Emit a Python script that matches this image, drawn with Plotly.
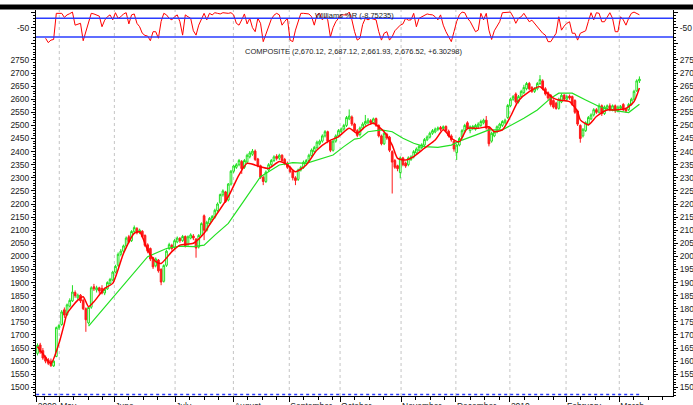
import plotly.graph_objects as go

# ---------------- data ----------------
opens = [
    1630, 1662, 1640, 1615, 1605, 1600, 1582, 1618, 1728, 1740,
    1796, 1778, 1810, 1830, 1862, 1842, 1852, 1832, 1800, 1746,
    1806, 1884, 1872, 1880, 1878, 1860, 1876, 1896, 1910, 1940,
    1966, 2008, 2020, 2040, 2075, 2060, 2094, 2106, 2092, 2096,
    2080, 2044, 2030, 1995, 1964, 1986, 1950, 1905, 1966, 2030,
    2042, 2034, 2055, 2068, 2060, 2076, 2045, 2070, 2078, 2066,
    2036, 2080, 2155, 2100, 2125, 2140, 2150, 2175, 2205, 2235,
    2246, 2215, 2276, 2325, 2340, 2350, 2362, 2340, 2360, 2380,
    2390, 2402, 2372, 2346, 2302, 2286, 2330, 2350, 2366, 2382,
    2375, 2386, 2370, 2356, 2340, 2325, 2300, 2294, 2330, 2340,
    2355, 2366, 2385, 2400, 2415, 2430, 2440, 2460, 2476, 2440,
    2405, 2440, 2460, 2476, 2486, 2500, 2525, 2532, 2505, 2480,
    2465, 2490, 2505, 2510, 2518, 2510, 2526, 2500, 2460, 2430,
    2466, 2455, 2400, 2366, 2346, 2320, 2376, 2356, 2350, 2370,
    2380, 2395, 2405, 2415, 2425, 2445, 2455, 2470, 2475, 2485,
    2492, 2488, 2496, 2478, 2460, 2440, 2396, 2425, 2455, 2480,
    2510, 2480, 2490, 2485, 2495, 2500, 2510, 2520, 2490, 2440,
    2460, 2475, 2490, 2500, 2510, 2530, 2575, 2600, 2620, 2590,
    2610, 2625, 2640, 2660, 2645, 2630, 2640, 2660, 2670, 2640,
    2625, 2615, 2595, 2585, 2565, 2590, 2615, 2600, 2612, 2610,
    2595, 2555, 2500, 2460, 2480, 2505, 2525, 2540, 2560, 2550,
    2575, 2545, 2565, 2575, 2560, 2575, 2555, 2565, 2580, 2562,
    2560, 2580, 2600, 2632, 2670.12,
]
highs = [
    1668, 1670, 1650, 1622, 1612, 1610, 1605, 1732, 1742, 1795,
    1805, 1820, 1840, 1890, 1870, 1858, 1856, 1838, 1805, 1810,
    1886, 1895, 1888, 1884, 1890, 1880, 1905, 1918, 1945, 1968,
    2015, 2028, 2045, 2076, 2082, 2100, 2118, 2112, 2106, 2100,
    2084, 2050, 2034, 1998, 1996, 1990, 1955, 1970, 2026, 2052,
    2048, 2066, 2076, 2074, 2082, 2080, 2080, 2088, 2085, 2070,
    2085, 2130, 2160, 2136, 2150, 2158, 2182, 2206, 2240, 2256,
    2250, 2280, 2330, 2350, 2356, 2372, 2368, 2372, 2392, 2402,
    2410, 2408, 2376, 2350, 2308, 2328, 2356, 2372, 2386, 2390,
    2392, 2390, 2376, 2362, 2346, 2330, 2306, 2335, 2346, 2366,
    2372, 2392, 2412, 2422, 2442, 2446, 2466, 2482, 2480, 2444,
    2446, 2466, 2486, 2492, 2506, 2536, 2561, 2538, 2510, 2486,
    2496, 2512, 2540, 2528, 2524, 2530, 2530, 2504, 2465, 2476,
    2472, 2460, 2405, 2372, 2350, 2382, 2380, 2362, 2382, 2386,
    2406, 2416, 2426, 2432, 2452, 2462, 2476, 2486, 2492, 2496,
    2498, 2500, 2500, 2484, 2466, 2446, 2430, 2456, 2486, 2506,
    2516, 2500, 2502, 2506, 2512, 2522, 2526, 2536, 2494, 2476,
    2480, 2500, 2510, 2520, 2526, 2582, 2606, 2616, 2626, 2616,
    2636, 2655, 2666, 2666, 2650, 2646, 2666, 2692, 2676, 2646,
    2630, 2620, 2600, 2590, 2606, 2622, 2620, 2616, 2618, 2614,
    2600, 2560, 2504, 2490, 2516, 2536, 2546, 2566, 2566, 2584,
    2580, 2576, 2580, 2584, 2580, 2580, 2576, 2578, 2585, 2568,
    2586, 2606, 2636, 2676, 2687.12,
]
lows = [
    1622, 1628, 1605, 1592, 1585, 1578, 1578, 1615, 1720, 1735,
    1765, 1772, 1805, 1826, 1842, 1835, 1822, 1795, 1712, 1740,
    1800, 1868, 1862, 1858, 1855, 1852, 1872, 1890, 1905, 1935,
    1960, 2000, 2012, 2034, 2050, 2055, 2088, 2084, 2085, 2070,
    2036, 2012, 1982, 1952, 1958, 1938, 1890, 1900, 1960, 2024,
    2022, 2028, 2050, 2052, 2055, 2034, 2040, 2065, 2062, 1995,
    2030, 2075, 2062, 2095, 2118, 2134, 2144, 2170, 2200, 2228,
    2204, 2210, 2270, 2318, 2334, 2344, 2315, 2334, 2355, 2374,
    2384, 2364, 2340, 2296, 2272, 2280, 2324, 2344, 2360, 2366,
    2368, 2360, 2348, 2334, 2318, 2290, 2272, 2288, 2324, 2334,
    2350, 2360, 2380, 2394, 2410, 2424, 2434, 2454, 2432, 2398,
    2400, 2434, 2454, 2470, 2480, 2494, 2520, 2498, 2474, 2455,
    2458, 2484, 2498, 2504, 2502, 2504, 2494, 2454, 2424, 2425,
    2445, 2398, 2240, 2334, 2325, 2298, 2344, 2338, 2344, 2364,
    2374, 2390, 2400, 2410, 2420, 2440, 2450, 2464, 2470, 2478,
    2478, 2482, 2474, 2454, 2438, 2400, 2368, 2420, 2450, 2474,
    2484, 2470, 2482, 2480, 2490, 2494, 2504, 2484, 2420, 2434,
    2455, 2470, 2484, 2494, 2504, 2525, 2570, 2594, 2584, 2584,
    2604, 2620, 2634, 2634, 2624, 2624, 2634, 2654, 2634, 2614,
    2598, 2572, 2564, 2560, 2560, 2585, 2594, 2594, 2598, 2574,
    2544, 2498, 2434, 2454, 2475, 2500, 2520, 2534, 2544, 2545,
    2536, 2540, 2558, 2554, 2554, 2548, 2550, 2560, 2554, 2548,
    2555, 2575, 2595, 2628, 2661.93,
]
closes = [
    1660, 1635, 1612, 1600, 1592, 1583, 1600, 1728, 1736, 1788,
    1776, 1815, 1832, 1864, 1850, 1852, 1830, 1800, 1758, 1805,
    1880, 1876, 1880, 1868, 1860, 1874, 1900, 1912, 1940, 1962,
    2008, 2020, 2040, 2070, 2056, 2095, 2110, 2090, 2100, 2076,
    2042, 2020, 1990, 1960, 1990, 1945, 1902, 1965, 2020, 2045,
    2030, 2060, 2070, 2060, 2076, 2040, 2075, 2082, 2070, 2032,
    2080, 2125, 2100, 2130, 2145, 2152, 2176, 2200, 2236, 2250,
    2210, 2276, 2325, 2345, 2350, 2366, 2335, 2366, 2386, 2395,
    2402, 2370, 2346, 2302, 2286, 2322, 2350, 2366, 2380, 2374,
    2386, 2366, 2355, 2340, 2324, 2300, 2290, 2330, 2340, 2360,
    2366, 2386, 2406, 2416, 2436, 2440, 2460, 2476, 2440, 2405,
    2440, 2460, 2480, 2486, 2500, 2530, 2536, 2505, 2480, 2462,
    2490, 2505, 2515, 2520, 2510, 2525, 2500, 2460, 2430, 2470,
    2452, 2405, 2360, 2340, 2335, 2376, 2350, 2345, 2376, 2380,
    2400, 2410, 2420, 2426, 2446, 2456, 2470, 2480, 2486, 2490,
    2485, 2495, 2480, 2460, 2445, 2410, 2425, 2450, 2480, 2500,
    2490, 2495, 2496, 2500, 2505, 2515, 2520, 2490, 2430, 2470,
    2475, 2495, 2505, 2515, 2520, 2576, 2600, 2610, 2590, 2610,
    2630, 2645, 2660, 2640, 2630, 2640, 2660, 2675, 2640, 2620,
    2605, 2580, 2570, 2565, 2600, 2615, 2600, 2610, 2605, 2580,
    2550, 2505, 2450, 2485, 2510, 2530, 2540, 2560, 2550, 2575,
    2545, 2570, 2575, 2560, 2575, 2560, 2570, 2572, 2560, 2555,
    2580, 2600, 2630, 2670.22, 2676.52,
]
days = list(range(len(closes)))

# Williams %R, starting at trading day 3
wr_start = 3
wr_values = [
    -84, -98, -90, -88, -4, -4, -4, -17, -9, -5,
    0, -42, -38, -36, -92, -63, -30, -4, -6, -9,
    -13, -47, -26, -15, -9, -25, -2, -20, -15, -6,
    -2, -38, -9, -6, -36, -47, -68, -75, -77, -92,
    -63, -63, -84, -30, -4, -9, -20, -25, -15, -9,
    -31, -74, -9, -15, -20, -60, -74, -42, -20, -4,
    -25, -4, -9, -2, -4, -6, -2, -4, -4, -2,
    -9, -36, -42, -25, -6, -38, -20, -50, -63, -20,
    -36, -95, -70, -52, -23, -10, -4, -9, -42, -30,
    -20, -90, -95, -58, -30, -4, -4, -5, -6, -15,
    -42, -9, -4, -25, -15, -25, -80, -50, -31, -20,
    -9, -9, -9, 0, -25, -63, -90, -84, -40, -20,
    -25, -20, -22, -25, -63, -90, -68, -63, -90, -79,
    -60, -52, -42, -38, -20, -26, -25, -4, -47, -20,
    -15, -9, -6, -8, -9, -15, -25, -9, -42, -63,
    -80, -95, -63, -30, -9, 0, -2, -20, -30, -45,
    -63, -58, -4, -25, -4, -58, -88, -60, -47, -31,
    -2, -1, 0, 0, -15, -36, -20, -15, -4, -20,
    -31, -26, -36, -47, -55, -68, -74, -95, -95, -80,
    -68, -15, -58, -45, -36, -31, -68, -68, -90, -68,
    -63, -60, -30, -2, -25, -2, -4, -31, -31, -15,
    -2, -20, -63, -63, -15, -25, -42, -20, -4, 0,
    -5, -8.75,
]
wr_days = list(range(wr_start, wr_start + len(wr_values)))

# moving averages, read at sample days
red_ma_days = [0, 2, 5, 8, 10, 11, 15, 17, 19, 21, 25, 28, 32, 36, 38, 41, 44, 46, 50, 53,
               58, 62, 64, 71, 75, 78, 83, 86, 90, 93, 96, 100, 104, 108, 112, 116, 119,
               122, 125, 129, 132, 134, 137, 140, 144, 148, 151, 154, 157, 160, 164, 168,
               170, 173, 176, 179, 183, 187, 189, 192, 194, 198, 201, 202, 205, 208, 212,
               215, 219, 222, 224]
red_ma_vals = [1655, 1628, 1591, 1668, 1744, 1782, 1833, 1846, 1808, 1827, 1878, 1897, 2011,
               2088, 2094, 2024, 1980, 1973, 2018, 2043, 2050, 2088, 2120, 2228, 2311, 2355,
               2342, 2336, 2362, 2349, 2323, 2349, 2406, 2438, 2457, 2489, 2470, 2495, 2508,
               2476, 2425, 2374, 2368, 2381, 2413, 2444, 2483, 2451, 2438, 2489, 2489, 2495,
               2476, 2483, 2534, 2594, 2629, 2648, 2629, 2604, 2597, 2591, 2553, 2521, 2502,
               2534, 2559, 2559, 2565, 2591, 2643]
green_ma_days = [19, 41, 48, 53, 58, 62, 66, 71, 77, 83, 90, 95, 100, 104, 110, 114, 118, 120,
                 123, 128, 132, 136, 140, 144, 149, 154, 158, 163, 168, 173, 176, 181, 186,
                 191, 194, 199, 204, 209, 213, 217, 220, 224]
green_ma_vals = [1734, 1999, 2030, 2039, 2037, 2043, 2081, 2126, 2215, 2304, 2349, 2358, 2355,
                 2368, 2387, 2419, 2448, 2451, 2476, 2483, 2476, 2451, 2432, 2419, 2416, 2425,
                 2444, 2463, 2483, 2483, 2500, 2527, 2559, 2604, 2623, 2623, 2597, 2572, 2559,
                 2553, 2549, 2581]

month_labels = ["2009", "May", "June", "July", "August", "September", "October",
                "November", "December", "2010", "February", "March"]
month_pos = [-0.3, 8.1, 28.6, 51.2, 72.9, 93.7, 112.6, 135.3, 155.7, 175.8, 196.7, 216.5]
price_ticks = list(range(1500, 2751, 50))

title_main = "COMPOSITE (2,670.12, 2,687.12, 2,661.93, 2,676.52, +6.30298)"
title_wr = "Williams %R (-8.75235)"

# ---------------- figure ----------------
FONT = "Liberation Sans, Arial, sans-serif"
TXT = "#222222"
GREEN = "#22e022"
RED = "#ff1a1a"

fig = go.Figure()

fig.add_trace(go.Candlestick(
    x=days, open=opens, high=highs, low=lows, close=closes,
    increasing=dict(line=dict(color=GREEN, width=1), fillcolor="white"),
    decreasing=dict(line=dict(color=RED, width=1), fillcolor=RED),
    whiskerwidth=0, xaxis="x", yaxis="y", showlegend=False, hoverinfo="skip",
))
fig.add_trace(go.Scatter(x=green_ma_days, y=green_ma_vals, mode="lines",
                         line=dict(color=GREEN, width=1.2), xaxis="x", yaxis="y",
                         showlegend=False, hoverinfo="skip"))
fig.add_trace(go.Scatter(x=red_ma_days, y=red_ma_vals, mode="lines",
                         line=dict(color="#ff0000", width=1.5, shape="spline", smoothing=0.6),
                         xaxis="x", yaxis="y", showlegend=False, hoverinfo="skip"))
fig.add_trace(go.Scatter(x=wr_days, y=wr_values, mode="lines",
                         line=dict(color="#ff0000", width=1), xaxis="x", yaxis="y2",
                         showlegend=False, hoverinfo="skip"))
# placeholder traces so the right-hand axes are drawn
fig.add_trace(go.Scatter(x=[days[0]], y=[closes[0]], mode="markers", marker=dict(opacity=0),
                         xaxis="x", yaxis="y3", showlegend=False, hoverinfo="skip"))
fig.add_trace(go.Scatter(x=[days[0]], y=[-50], mode="markers", marker=dict(opacity=0),
                         xaxis="x", yaxis="y4", showlegend=False, hoverinfo="skip"))

W, H = 693, 405
ML, MR, MT, MB = 36, 20, 10, 9
PW, PH = W - ML - MR, H - MT - MB
split = 1 - 35 / PH  # %R panel occupies the top 35 px

axis_common = dict(showline=True, linecolor="black", linewidth=1, ticks="outside",
                   tickcolor="black", tickwidth=1, showgrid=False, zeroline=False,
                   automargin=False,
                   tickfont=dict(family=FONT, size=8.5, color=TXT))

minor_y = dict(dtick=10, tick0=0, ticks="outside", ticklen=2, tickcolor="black")

fig.update_layout(
    width=W, height=H, margin=dict(l=ML, r=MR, t=MT, b=MB, autoexpand=False),
    paper_bgcolor="white", plot_bgcolor="white", showlegend=False, boxgap=0.1,
    xaxis=dict(range=[-0.56, 236.5], anchor="y", tickmode="array", tickvals=month_pos,
               ticktext=month_labels, ticklen=5, tickangle=0, ticklabelstandoff=2,
               ticklabelposition="outside right", rangeslider=dict(visible=False),
               minor=dict(tickvals=[m + d for m in month_pos[1:] for d in (5.4, 10.8, 16.2)] + [2.7],
                          ticks="outside", ticklen=3, tickcolor="black"),
               **axis_common),
    yaxis=dict(domain=[0, split], range=[1467, 2807], tickmode="array", tickvals=price_ticks,
               ticklen=4, minor=minor_y, **axis_common),
    yaxis3=dict(overlaying="y", side="right", matches="y", tickmode="array",
                tickvals=price_ticks, ticklen=4, minor=minor_y, **axis_common),
    yaxis2=dict(domain=[split, 1], range=[-105.7, 6.7], anchor="x", tickmode="array",
                tickvals=[0, -50, -100], ticktext=["", "-50", ""], ticklen=4,
                minor=minor_y, **axis_common),
    yaxis4=dict(overlaying="y2", side="right", matches="y2", tickmode="array",
                tickvals=[0, -50, -100], ticktext=["", "-50", ""], ticklen=4,
                minor=minor_y, **axis_common),
)

shapes = []
# month grid lines
for p in month_pos[1:]:
    shapes.append(dict(type="line", xref="x", yref="paper", x0=p, x1=p, y0=0, y1=1,
                       line=dict(color="#c4c4c4", width=1, dash="dot"), layer="below"))
# Williams %R reference levels
for lv in (-20, -80):
    shapes.append(dict(type="line", xref="paper", yref="y2", x0=0, x1=1, y0=lv, y1=lv,
                       line=dict(color="#2a3cff", width=1.4)))
# black band at top
shapes.append(dict(type="rect", xref="paper", yref="paper", x0=-ML / PW, x1=1 + MR / PW,
                   y0=1 + 0.5 / PH, y1=1 + 5.5 / PH, fillcolor="black", line=dict(width=0)))
# blue dotted baseline
shapes.append(dict(type="line", xref="x", yref="paper", x0=-0.5, x1=days[-1] + 0.5,
                   y0=1.5 / PH, y1=1.5 / PH, line=dict(color="#2a3cff", width=1.5, dash="dot")))
fig.update_layout(shapes=shapes)

fig.add_annotation(text=title_wr, xref="paper", yref="paper", x=(354 - ML) / PW,
                   y=1 - 5 / PH, showarrow=False, xanchor="center", yanchor="middle",
                   font=dict(family=FONT, size=7.5, color=TXT))
fig.add_annotation(text=title_main, xref="paper", yref="paper", x=(354 - ML) / PW,
                   y=1 - 42 / PH, showarrow=False, xanchor="center", yanchor="middle",
                   font=dict(family=FONT, size=7.5, color=TXT))

# place the figure at the page's top-left corner (no default body margin), no mode bar
fig.write_html("out.html", config={"displayModeBar": False},
               post_script="document.body.style.margin='0';document.body.style.overflow='hidden';")
